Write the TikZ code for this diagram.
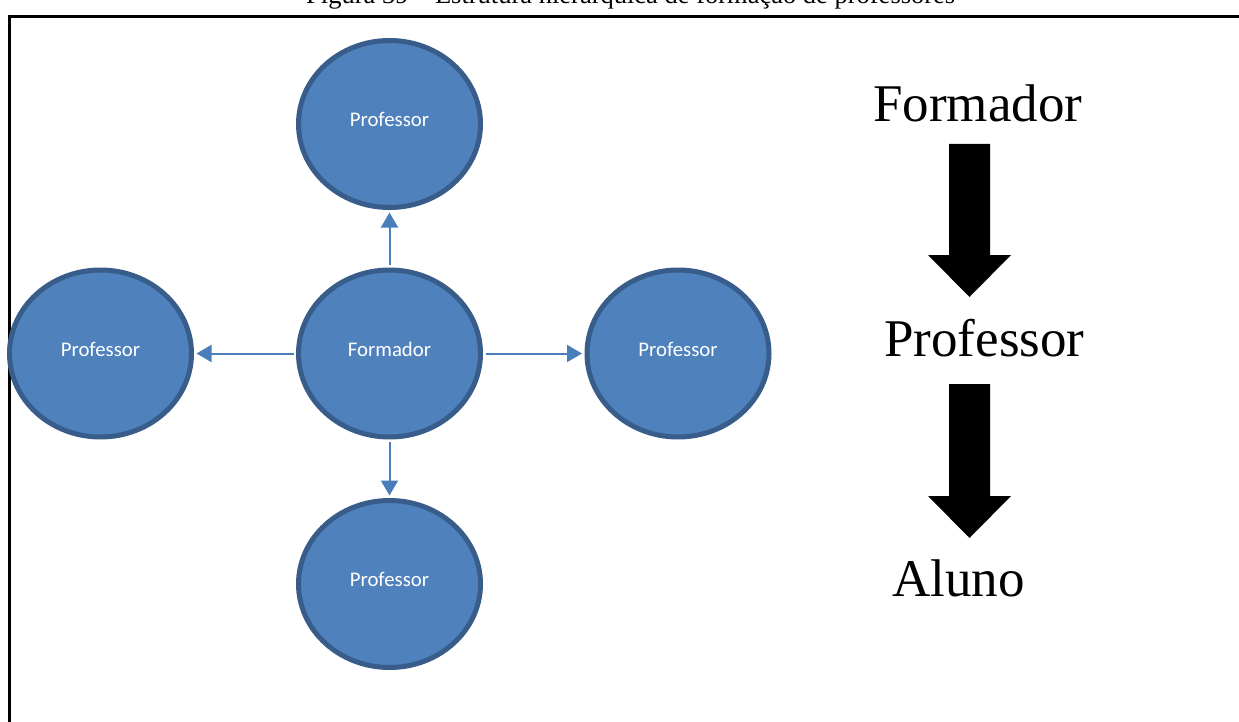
\documentclass[tikz,border=0pt]{standalone}
\usepackage{fontspec}
\setmainfont{Liberation Serif}
\newfontfamily\calibrilike{Carlito}
\usetikzlibrary{shapes.geometric,arrows.meta}
\definecolor{nodefill}{HTML}{4F81BD}
\definecolor{nodeline}{HTML}{385D8A}
\definecolor{linkcol}{HTML}{4A7EBB}
\tikzset{
  role/.style={ellipse, draw=nodeline, line width=5pt, fill=nodefill,
    minimum width=182pt, minimum height=167pt, inner sep=0pt,
    text=white, font=\calibrilike\fontsize{20.8}{24}\selectfont},
  link/.style={draw=linkcol, line width=2pt,
    -{Triangle[length=15pt,width=17pt]}, shorten >=2.5pt, shorten <=2.5pt},
  bigword/.style={anchor=base west, inner sep=0pt, font=\fontsize{53}{60}\selectfont},
  bigarrow/.style={fill=black, draw=none}
}
\newcommand{\rolename}[1]{\raisebox{9pt}{#1}}
\begin{document}
\begin{tikzpicture}[x=1pt,y=-1pt]
\useasboundingbox (0,0) rectangle (1239,722);
% caption line, partly above the page edge
\node[anchor=base west, inner sep=0pt, font=\fontsize{26.5}{30}\selectfont] (caption) at (306,3.5)
  {Figura 39 – Estrutura hierárquica de formação de professores};
% frame
\draw[line width=3pt] (9,724) -- (9,16.5) -- (1242,16.5);

% the five circles
\node[role] (c) at (389.5,353.5) {\rolename{Formador}};
\node[role] (t) at (389.5,124) {\rolename{Professor}};
\node[role] (b) at (389.5,584) {\rolename{Professor}};
\node[role] (l) at (100.5,353.5) {\rolename{Professor}};
\node[role] (r) at (678,353.5) {\rolename{Professor}};

% connectors
\draw[link] (c.north) -- (t.south);
\draw[link] (c.south) -- (b.north);
\draw[link] (c.west) -- (l.east);
\draw[link] (c.east) -- (r.west);

% hierarchy on the right
\node[bigword] (f) at (873,122) {Formador};
\node[bigword] (p) at (884,356) {Professor};
\node[bigword] (a) at (892,596) {Aluno};

\fill[bigarrow] (949,144) -- (990,144) -- (990,255) -- (1011,255) -- (969.5,297)
  -- (928,255) -- (949,255) -- cycle;
\fill[bigarrow] (949,384) -- (990,384) -- (990,496) -- (1011,496) -- (969.5,538)
  -- (928,496) -- (949,496) -- cycle;
\end{tikzpicture}
\end{document}
